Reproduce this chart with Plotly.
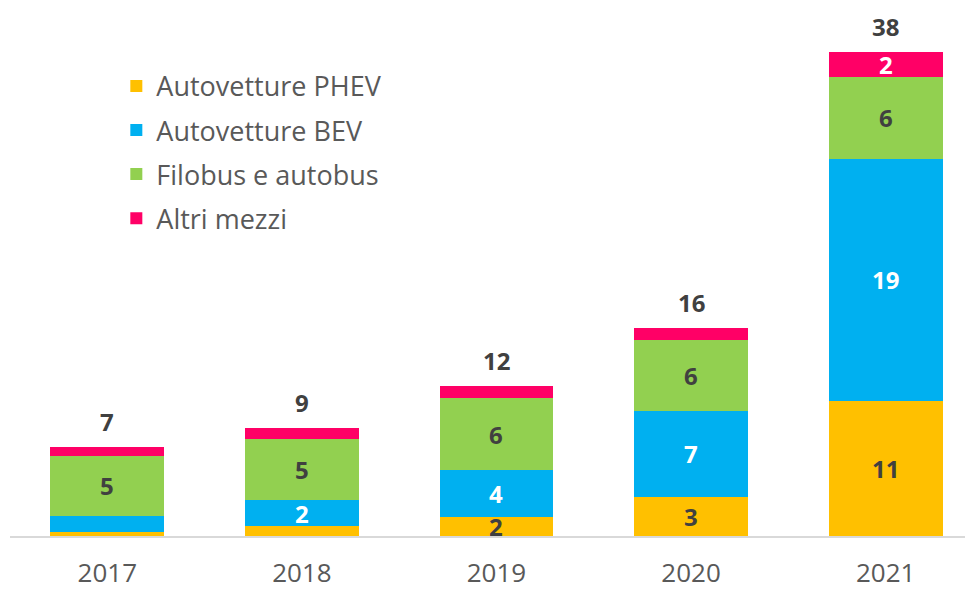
import plotly.graph_objects as go

years = ["2017", "2018", "2019", "2020", "2021"]
phev = [0.35, 0.8, 1.5, 3.1, 10.6]
bev = [1.2, 2.0, 3.7, 6.7, 19.0]
bus = [4.75, 4.85, 5.6, 5.6, 6.45]
altri = [0.7, 0.85, 1.0, 0.95, 1.95]

series = [
    ("Autovetture PHEV", phev, "#FFC000", "#404040"),
    ("Autovetture BEV", bev, "#00B0F0", "#FFFFFF"),
    ("Filobus e autobus", bus, "#92D050", "#404040"),
    ("Altri mezzi", altri, "#FF0066", "#FFFFFF"),
]

FONT = "Open Sans"

def fmt(v):
    return str(int(v + 0.5))

fig = go.Figure()
annotations = []
base = [0.0] * len(years)
for i, (name, vals, color, tcolor) in enumerate(series):
    fig.add_trace(go.Bar(
        x=list(range(len(years))), y=vals, name=name, marker_color=color,
        marker_line_width=0, width=0.585, legendgroup=str(i),
    ))
    for j, v in enumerate(vals):
        if v >= 1.5:
            annotations.append(dict(
                x=j, y=base[j] + v / 2, text="<b>" + fmt(v) + "</b>",
                showarrow=False, xref="x", yref="y",
                font=dict(family=FONT, size=24, color=tcolor),
                xanchor="center", yanchor="middle",
            ))
        base[j] += v

for j, tot in enumerate(base):
    annotations.append(dict(
        x=j, y=tot, text="<b>" + fmt(tot) + "</b>", showarrow=False,
        xref="x", yref="y",
        font=dict(family=FONT, size=24, color="#404040"),
        xanchor="center", yanchor="bottom", yshift=7,
    ))

fig.update_layout(
    barmode="stack",
    width=973, height=592,
    margin=dict(l=2, r=0, t=0, b=64),
    plot_bgcolor="white", paper_bgcolor="white",
    annotations=annotations,
    showlegend=True,
    legend=dict(
        x=0.1095, y=0.898, xanchor="left", yanchor="top",
        traceorder="grouped", tracegroupgap=6,
        font=dict(family=FONT, size=27, color="#595959"),
        bgcolor="rgba(0,0,0,0)", itemclick=False,
    ),
    xaxis=dict(
        type="linear", range=[-0.5, 4.49], showgrid=False, ticks="",
        tickmode="array", tickvals=list(range(len(years))), ticktext=years,
        showline=True, linecolor="#D9D9D9", linewidth=2, zeroline=False,
        tickfont=dict(family=FONT, size=26, color="#595959"),
        ticklabelstandoff=13,
    ),
    yaxis=dict(range=[0, 41.44], visible=False, showgrid=False, zeroline=False),
)

fig.write_html("out.html")
